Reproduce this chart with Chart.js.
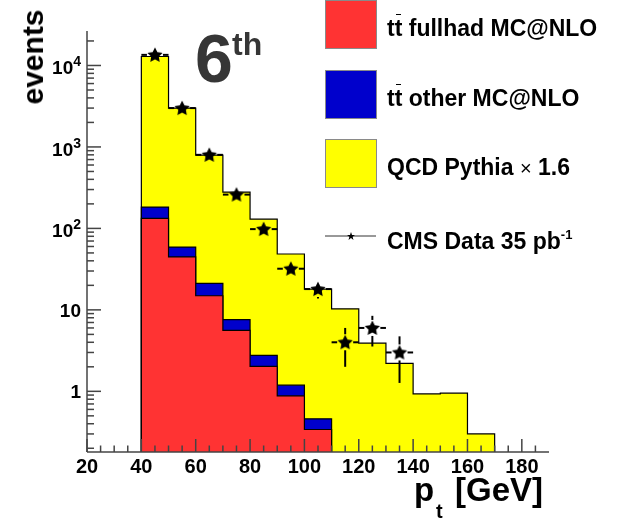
<!DOCTYPE html>
<html>
<head>
<meta charset="utf-8">
<script src="https://cdn.jsdelivr.net/npm/chart.js@4.4.1/dist/chart.umd.min.js"></script>
<style>
  body { margin: 0; background: #fff; }
  #wrap { position: relative; width: 622px; height: 520px; overflow: hidden;
          font-family: 'Liberation Sans', Arial, Helvetica, sans-serif; font-weight: bold; color: #000; }
  canvas { position: absolute; left: 0; top: 0; }
  .lbl { position: absolute; white-space: nowrap; line-height: 1; }
  .leg { left: 387px; font-size: 23px; }
  .box { position: absolute; left: 325px; width: 50px; height: 47px; border: 1px solid #8a8a8a; }
  .bar { position: relative; }
  .bar::before { content: ''; position: absolute; left: 1px; right: 1px; top: -1px; border-top: 1.5px solid #000; }
  .sup { font-size: 13px; vertical-align: 10px; }
  .times { font-weight: normal; font-size: 20px; }
</style>
</head>
<body>
<div id="wrap">
  <canvas id="c" width="622" height="520"></canvas>

  <div class="box" style="top:0px; background:#ff3333"></div>
  <div class="lbl leg" style="top:17px">t<span class="bar">t</span> fullhad MC@NLO</div>
  <div class="box" style="top:70px; background:#0000cc"></div>
  <div class="lbl leg" style="top:87px">t<span class="bar">t</span> other MC@NLO</div>
  <div class="box" style="top:139px; background:#ffff00"></div>
  <div class="lbl leg" style="top:156px">QCD Pythia <span class="times">×</span> 1.6</div>
  <svg style="position:absolute; left:325px; top:229px" width="52" height="14">
    <line x1="0" y1="7" x2="51" y2="7" stroke="#333" stroke-width="1"/>
    <polygon points="26,3 27,6 30,6 27.6,7.8 28.5,11 26,9 23.5,11 24.4,7.8 22,6 25,6" fill="#000"/>
  </svg>
  <div class="lbl leg" style="top:228px">CMS Data 35 pb<span class="sup">-1</span></div>

  <div class="lbl" style="left:195px; top:24px; font-size:68px; color:#363636">6</div>
  <div class="lbl" style="left:232px; top:28px; font-size:32px; color:#363636">th</div>

  <div class="lbl" style="left:33px; top:57px; font-size:30px; transform:translate(-50%,-50%) rotate(-90deg)">events</div>

  <div class="lbl" style="left:414px; top:473px; font-size:33px">p</div>
  <div class="lbl" style="left:436px; top:501px; font-size:20px">t</div>
  <div class="lbl" style="left:455px; top:473px; font-size:33px">[GeV]</div>
</div>

<script>
// bin edges (GeV) of the pt histograms
const binEdges = [40, 50, 60, 70, 80, 90, 100, 110, 120, 130, 140, 150, 160, 170];
// stacked MC contributions per bin
const ttFullhad = [133, 44.6, 14.9, 5.6, 2.03, 0.88, 0.34];
const ttOther = [50, 14.4, 6.2, 2.0, 0.74, 0.31, 0.12];
const qcdPythia = [12700, 2940, 774, 272, 127, 47.3, 17.5, 10.3, 3.9, 2.2, 0.93, 0.95, 0.30];
// measured events at bin centres
const dataPt = [45, 55, 65, 75, 85, 95, 105, 115, 125, 135];
const dataEvents = [13500, 3000, 800, 260, 98, 32, 18, 4, 6, 3];
// axis ticks
const xTicks = [20, 40, 60, 80, 100, 120, 140, 160, 180];
const yDecades = [0, 1, 2, 3, 4];

const xMin = 20, xMax = 190;
const yMin = 0.18, yMax = 26500;

// cumulative stack tops
const redTop = ttFullhad.slice();
const blueTop = ttFullhad.map((v, i) => v + ttOther[i]);
const totalTop = qcdPythia.map((v, i) => v + (blueTop[i] || 0));

// step outline of a histogram, closed down to the axis floor
function outline(values) {
  const pts = [{x: binEdges[0], y: yMin}];
  values.forEach((v, i) => {
    pts.push({x: binEdges[i], y: v}, {x: binEdges[i + 1], y: v});
  });
  pts.push({x: binEdges[values.length], y: yMin});
  return pts;
}

function makeStar(r) {
  const c = document.createElement('canvas');
  const s = Math.ceil(r * 2) + 2;
  c.width = c.height = s;
  const g = c.getContext('2d');
  g.translate(s / 2, s / 2 + 0.5);
  g.beginPath();
  for (let i = 0; i < 10; i++) {
    const rad = i % 2 ? r * 0.5 : r;
    const a = -Math.PI / 2 + i * Math.PI / 5;
    g.lineTo(rad * Math.cos(a), rad * Math.sin(a));
  }
  g.closePath();
  g.fillStyle = '#000';
  g.fill();
  return c;
}

const starImg = makeStar(8);

function histo(values, color, order) {
  return {
    type: 'line',
    data: outline(values),
    order: order,
    fill: 'start',
    backgroundColor: color,
    borderColor: '#000',
    borderWidth: 1.2,
    pointRadius: 0,
    tension: 0
  };
}

const axesPlugin = {
  id: 'rootAxes',
  afterDatasetsDraw(chart) {
    const ctx = chart.ctx;
    const xs = chart.scales.x, ys = chart.scales.y;
    const a = chart.chartArea;
    ctx.save();

    // data error bars: bin width horizontally, sqrt(N) vertically
    ctx.strokeStyle = '#000';
    ctx.lineWidth = 2;
    const gap = 8;
    const seg = (x1, y1, x2, y2) => {
      ctx.beginPath(); ctx.moveTo(x1, y1); ctx.lineTo(x2, y2); ctx.stroke();
    };
    dataPt.forEach((x, i) => {
      const n = dataEvents[i], e = Math.sqrt(n);
      const px = xs.getPixelForValue(x), py = ys.getPixelForValue(n);
      const xl = xs.getPixelForValue(x - 5), xr = xs.getPixelForValue(x + 5);
      const yt = ys.getPixelForValue(n + e), yb = ys.getPixelForValue(n - e);
      seg(xl, py, px - gap, py);
      seg(px + gap, py, xr, py);
      if (py - yt > gap) seg(px, yt, px, py - gap);
      if (yb - py > gap) seg(px, py + gap, px, yb);
    });

    // axis lines and inward ticks
    ctx.strokeStyle = '#444';
    ctx.lineWidth = 1.5;
    seg(a.left, a.top, a.left, a.bottom);
    seg(a.left, a.bottom, a.right, a.bottom);
    for (let k = -1; k <= 4; k++) {
      for (let m = 1; m <= 9; m++) {
        const v = m * Math.pow(10, k);
        if (v < yMin || v > yMax) continue;
        const py = ys.getPixelForValue(v);
        seg(a.left, py, a.left + (m === 1 ? 14 : 7), py);
      }
    }
    for (let v = xMin; v < xMax; v += 5) {
      const px = xs.getPixelForValue(v);
      seg(px, a.bottom, px, a.bottom - (v % 20 === 0 ? 13 : 6.5));
    }

    // tick labels
    ctx.fillStyle = '#000';
    ctx.font = 'bold 20px "Liberation Sans", Arial, sans-serif';
    ctx.textAlign = 'center';
    ctx.textBaseline = 'alphabetic';
    xTicks.forEach(v => ctx.fillText(String(v), xs.getPixelForValue(v), a.bottom + 21));

    ctx.textAlign = 'right';
    const lx = a.left - 6;
    yDecades.forEach(k => {
      const py = ys.getPixelForValue(Math.pow(10, k));
      if (k < 2) {
        ctx.font = 'bold 19px "Liberation Sans", Arial, sans-serif';
        ctx.fillText(k === 0 ? '1' : '10', lx, py + 7);
      } else {
        ctx.font = 'bold 14px "Liberation Sans", Arial, sans-serif';
        const w = ctx.measureText(String(k)).width;
        ctx.fillText(String(k), lx, py + 1);
        ctx.font = 'bold 19px "Liberation Sans", Arial, sans-serif';
        ctx.fillText('10', lx - w, py + 9);
      }
    });
    ctx.restore();
  }
};

new Chart(document.getElementById('c'), {
  type: 'line',
  data: {
    datasets: [
      {
        type: 'line',
        data: dataPt.map((x, i) => ({x: x, y: dataEvents[i]})),
        order: 0,
        showLine: false,
        pointStyle: starImg,
        pointRadius: 8,
        pointHoverRadius: 8
      },
      histo(redTop, '#ff3333', 1),
      histo(blueTop, '#0000cc', 2),
      histo(totalTop, '#ffff00', 3)
    ]
  },
  options: {
    responsive: false,
    animation: false,
    devicePixelRatio: 1,
    events: [],
    layout: {padding: {left: 87, right: 73, top: 31, bottom: 68}},
    scales: {
      x: {type: 'linear', min: xMin, max: xMax, display: false},
      y: {type: 'logarithmic', min: yMin, max: yMax, display: false}
    },
    plugins: {
      legend: {display: false},
      tooltip: {enabled: false}
    }
  },
  plugins: [axesPlugin]
});
</script>
</body>
</html>
